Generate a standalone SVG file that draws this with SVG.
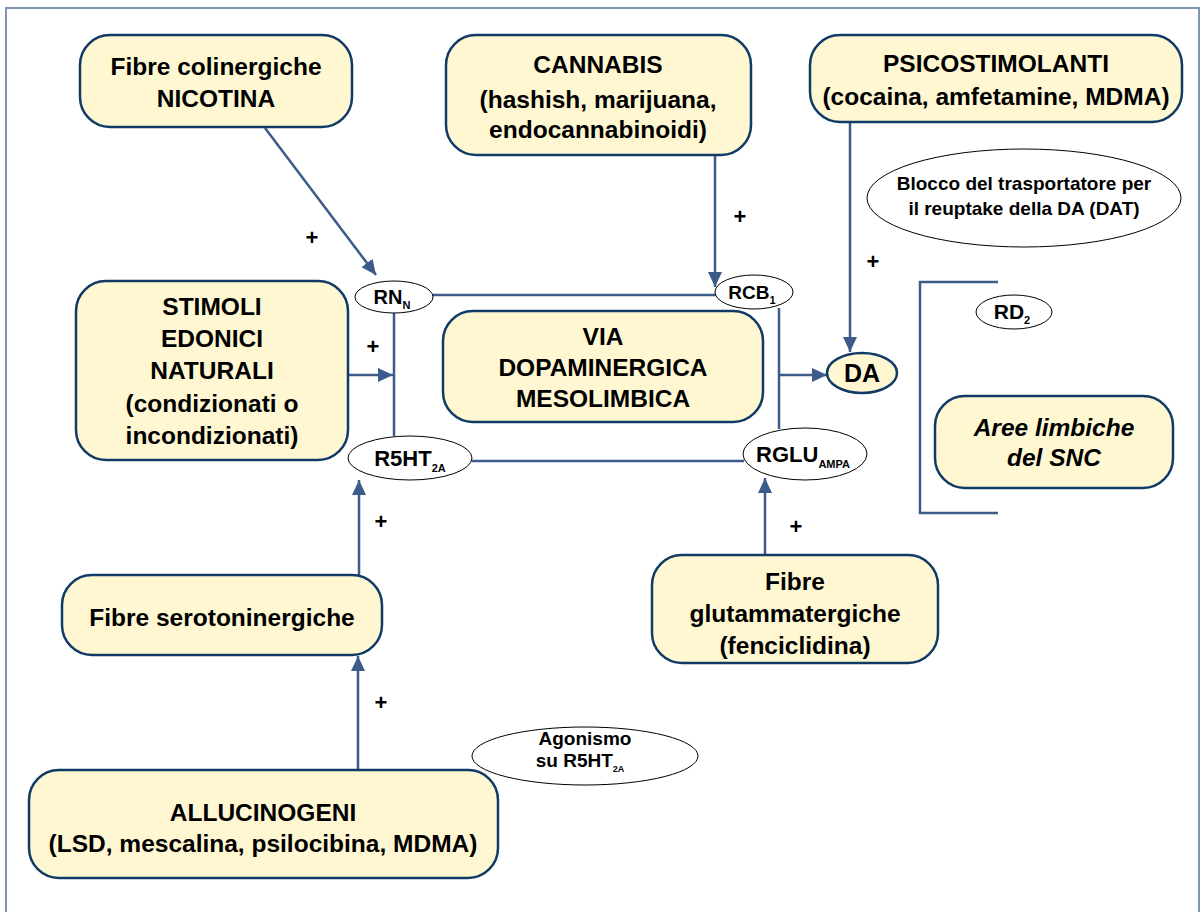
<svg xmlns="http://www.w3.org/2000/svg" width="1202" height="912" viewBox="0 0 1202 912">
<style>
.box{fill:#fff7d2;stroke:#0f3b66;stroke-width:2.5}
.t{font-family:"Liberation Sans",Arial,sans-serif;font-weight:bold;fill:#000;text-anchor:middle}
.big{font-size:24.5px}
.sm{font-size:19px}
.sub{font-size:11px}
.ell{fill:#fff;stroke:#000;stroke-width:1}
.c{stroke:#3d5b8a;stroke-width:2.5;fill:none}
.plus{font-family:"Liberation Sans",sans-serif;font-weight:bold;font-size:22px;fill:#000;text-anchor:middle}
</style>
<defs>
<marker id="ah" markerUnits="userSpaceOnUse" markerWidth="16" markerHeight="14" refX="15" refY="7" orient="auto">
<path d="M0,0 L15,7 L0,14 z" fill="#3d5b8a"/>
</marker>
</defs>
<rect x="0" y="0" width="1202" height="912" fill="#fff"/>
<rect x="6" y="8" width="1193" height="920" fill="none" stroke="#8094b3" stroke-width="2"/>

<g id="connectors">
<line class="c" x1="265" y1="128" x2="376" y2="275" marker-end="url(#ah)"/>
<line class="c" x1="715" y1="155" x2="715" y2="287" marker-end="url(#ah)"/>
<line class="c" x1="850" y1="123" x2="850" y2="352" marker-end="url(#ah)"/>
<line class="c" x1="348" y1="375" x2="393" y2="375" marker-end="url(#ah)"/>
<line class="c" x1="433" y1="295" x2="716" y2="295"/>
<line class="c" x1="394" y1="313" x2="394" y2="436"/>
<line class="c" x1="472" y1="461" x2="744" y2="461"/>
<line class="c" x1="779" y1="308" x2="779" y2="429"/>
<line class="c" x1="779" y1="375" x2="827" y2="375" marker-end="url(#ah)"/>
<line class="c" x1="765" y1="555" x2="765" y2="478" marker-end="url(#ah)"/>
<line class="c" x1="359" y1="575" x2="359" y2="480" marker-end="url(#ah)"/>
<line class="c" x1="358" y1="769" x2="358" y2="656" marker-end="url(#ah)"/>
<polyline class="c" points="998,282 920,282 920,513 998,513"/>
<text class="plus" x="312" y="245">+</text>
<text class="plus" x="740" y="224">+</text>
<text class="plus" x="873" y="269">+</text>
<text class="plus" x="373" y="354">+</text>
<text class="plus" x="796" y="534">+</text>
<text class="plus" x="381" y="529">+</text>
<text class="plus" x="381" y="710">+</text>
</g>

<g id="nicotina">
<rect class="box" x="80" y="35" width="272" height="92" rx="30"/>
<text class="t big" x="216" y="75">Fibre colinergiche</text>
<text class="t big" x="216" y="107">NICOTINA</text>
</g>

<g id="cannabis">
<rect class="box" x="446" y="35" width="305" height="120" rx="30"/>
<text class="t big" x="598" y="73">CANNABIS</text>
<text class="t big" x="598" y="108">(hashish, marijuana,</text>
<text class="t big" x="598" y="138">endocannabinoidi)</text>
</g>

<g id="psicostimolanti">
<rect class="box" x="810" y="35" width="372" height="87" rx="30"/>
<text class="t big" x="996" y="72">PSICOSTIMOLANTI</text>
<text class="t big" x="996" y="105">(cocaina, amfetamine, MDMA)</text>
</g>

<g id="dat">
<ellipse class="ell" cx="1024" cy="198" rx="157" ry="49"/>
<text class="t sm" x="1024" y="190">Blocco del trasportatore per</text>
<text class="t sm" x="1024" y="215">il reuptake della DA (DAT)</text>
</g>

<g id="stimoli">
<rect class="box" x="76" y="281" width="272" height="179" rx="30"/>
<text class="t big" x="212" y="315">STIMOLI</text>
<text class="t big" x="212" y="347">EDONICI</text>
<text class="t big" x="212" y="379">NATURALI</text>
<text class="t big" x="212" y="412">(condizionati o</text>
<text class="t big" x="212" y="444">incondizionati)</text>
</g>

<g id="via">
<rect class="box" x="443" y="311" width="320" height="111" rx="30"/>
<text class="t big" x="603" y="345">VIA</text>
<text class="t big" x="603" y="376">DOPAMINERGICA</text>
<text class="t big" x="603" y="407">MESOLIMBICA</text>
</g>

<g id="rnn">
<ellipse class="ell" cx="394" cy="297" rx="39" ry="16"/>
<text class="t" style="font-size:20px" x="392" y="304">RN<tspan class="sub" dy="5">N</tspan></text>
</g>

<g id="rcb1">
<ellipse class="ell" cx="754" cy="292" rx="39" ry="17"/>
<text class="t" style="font-size:19px" x="752" y="299">RCB<tspan class="sub" dy="5">1</tspan></text>
</g>

<g id="r5ht2a">
<ellipse class="ell" cx="410" cy="458" rx="62" ry="22"/>
<text class="t" style="font-size:22px" x="410" y="466">R5HT<tspan class="sub" dy="6">2A</tspan></text>
</g>

<g id="rglu">
<ellipse class="ell" cx="805" cy="454" rx="62" ry="26"/>
<text class="t" style="font-size:22px" x="803" y="462">RGLU<tspan class="sub" dy="6">AMPA</tspan></text>
</g>

<g id="da">
<ellipse class="box" cx="862" cy="373" rx="35" ry="20"/>
<text class="t" style="font-size:25px" x="862" y="382">DA</text>
</g>

<g id="rd2">
<ellipse class="ell" cx="1014" cy="312" rx="38" ry="17"/>
<text class="t" style="font-size:21px" x="1012" y="319">RD<tspan class="sub" dy="5">2</tspan></text>
</g>

<g id="aree">
<rect class="box" x="935" y="396" width="238" height="92" rx="30"/>
<text class="t big" style="font-style:italic" x="1054" y="436">Aree limbiche</text>
<text class="t big" style="font-style:italic" x="1054" y="466">del SNC</text>
</g>

<g id="glutammatergiche">
<rect class="box" x="652" y="555" width="286" height="108" rx="30"/>
<text class="t big" x="795" y="590">Fibre</text>
<text class="t big" x="795" y="622">glutammatergiche</text>
<text class="t big" x="795" y="654">(fenciclidina)</text>
</g>

<g id="serotoninergiche">
<rect class="box" x="62" y="575" width="320" height="80" rx="30"/>
<text class="t big" x="222" y="626">Fibre serotoninergiche</text>
</g>

<g id="agonismo">
<ellipse class="ell" cx="585" cy="756" rx="113" ry="29"/>
<text class="t" style="font-size:19px" x="585" y="745">Agonismo</text>
<text class="t" style="font-size:19px" x="580" y="767">su R5HT<tspan style="font-size:9px" dy="5">2A</tspan></text>
</g>

<g id="allucinogeni">
<rect class="box" x="29" y="770" width="469" height="108" rx="30"/>
<text class="t big" x="263" y="821">ALLUCINOGENI</text>
<text class="t big" x="263" y="852">(LSD, mescalina, psilocibina, MDMA)</text>
</g>
</svg>
